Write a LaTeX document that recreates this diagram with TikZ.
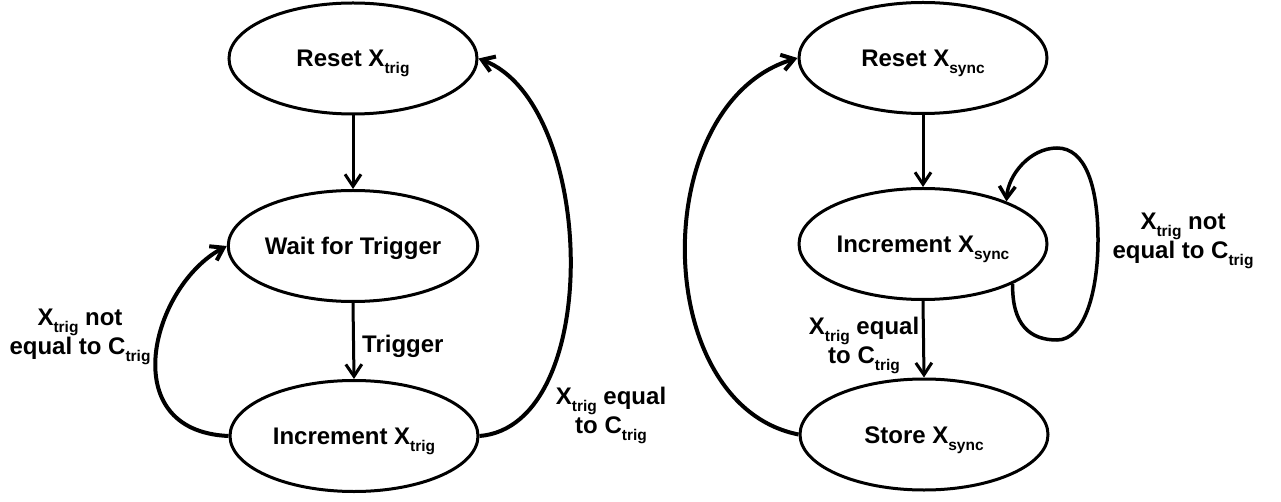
\documentclass[tikz,border=0pt]{standalone}
\usepackage{fontspec}
\setmainfont{Liberation Sans}
\usetikzlibrary{shapes.geometric,arrows.meta}
\newcommand\lowsub[1]{\raisebox{-7pt}{\fontsize{15.5}{15.5}\selectfont #1}}
\begin{document}
\begin{tikzpicture}[x=1pt,y=-1pt,
  state/.style={ellipse,draw,line width=3pt,minimum width=248pt,minimum height=111pt,inner sep=0pt,text height=17pt,text depth=0pt,font=\fontsize{24}{29}\selectfont\bfseries},
  lbl/.style={align=center,font=\fontsize{24}{29}\selectfont\bfseries,inner sep=0pt},
  arr/.style={line width=3pt,-{Straight Barb[length=12pt,width=16pt]}},
  loopc/.style={line width=4pt,-{Straight Barb[length=12pt,width=16pt]}}
]
\useasboundingbox (0,0) rectangle (1281,502);
% left machine
\node[state] (r1) at (353,58.5) {Reset X\lowsub{trig}};
\node[state] (w1) at (353,246) {Wait for Trigger};
\node[state] (i1) at (354,436) {Increment X\lowsub{trig}};
\draw[arr] (r1.south) -- (w1.north);
\draw[arr] (w1.south) -- (i1.north);
\draw[loopc] (i1.west) .. controls +(-115,-5) and +(-75,40) .. (w1.west);
\draw[loopc] (i1.east) .. controls +(125,-10) and +(118,45) .. (r1.east);
\node[lbl,anchor=west,text height=17pt,text depth=0pt] (t1) at (362,343.5) {Trigger};
\node[lbl] (l1) at (80,337) {X\lowsub{trig} not\\equal to C\lowsub{trig}};
\node[lbl] (l2) at (611,415) {X\lowsub{trig} equal\\to C\lowsub{trig}};
% right machine
\node[state] (r2) at (923,58) {Reset X\lowsub{sync}};
\node[state] (i2) at (923,244) {Increment X\lowsub{sync}};
\node[state] (s2) at (924,434.5) {Store X\lowsub{sync}};
\draw[arr] (r2.south) -- (i2.north);
\draw[arr] (i2.south) -- (s2.north);
\draw[loopc] (s2.west) .. controls +(-150,-30) and +(-150,45) .. (r2.west);
\draw[line width=3.5pt,-{Straight Barb[length=12pt,width=16pt]}] (i2.-24)
  .. controls (1012,325) and (1030,340) .. (1057,340)
  .. controls (1085,340) and (1098,290) .. (1098,240)
  .. controls (1098,185) and (1085,148) .. (1057,148)
  .. controls (1030,148) and (1008,175) .. (i2.27);
\node[lbl] (l4) at (864,345) {X\lowsub{trig} equal\\to C\lowsub{trig}};
\node[lbl] (l5) at (1183,241) {X\lowsub{trig} not\\equal to C\lowsub{trig}};
\end{tikzpicture}
\end{document}
